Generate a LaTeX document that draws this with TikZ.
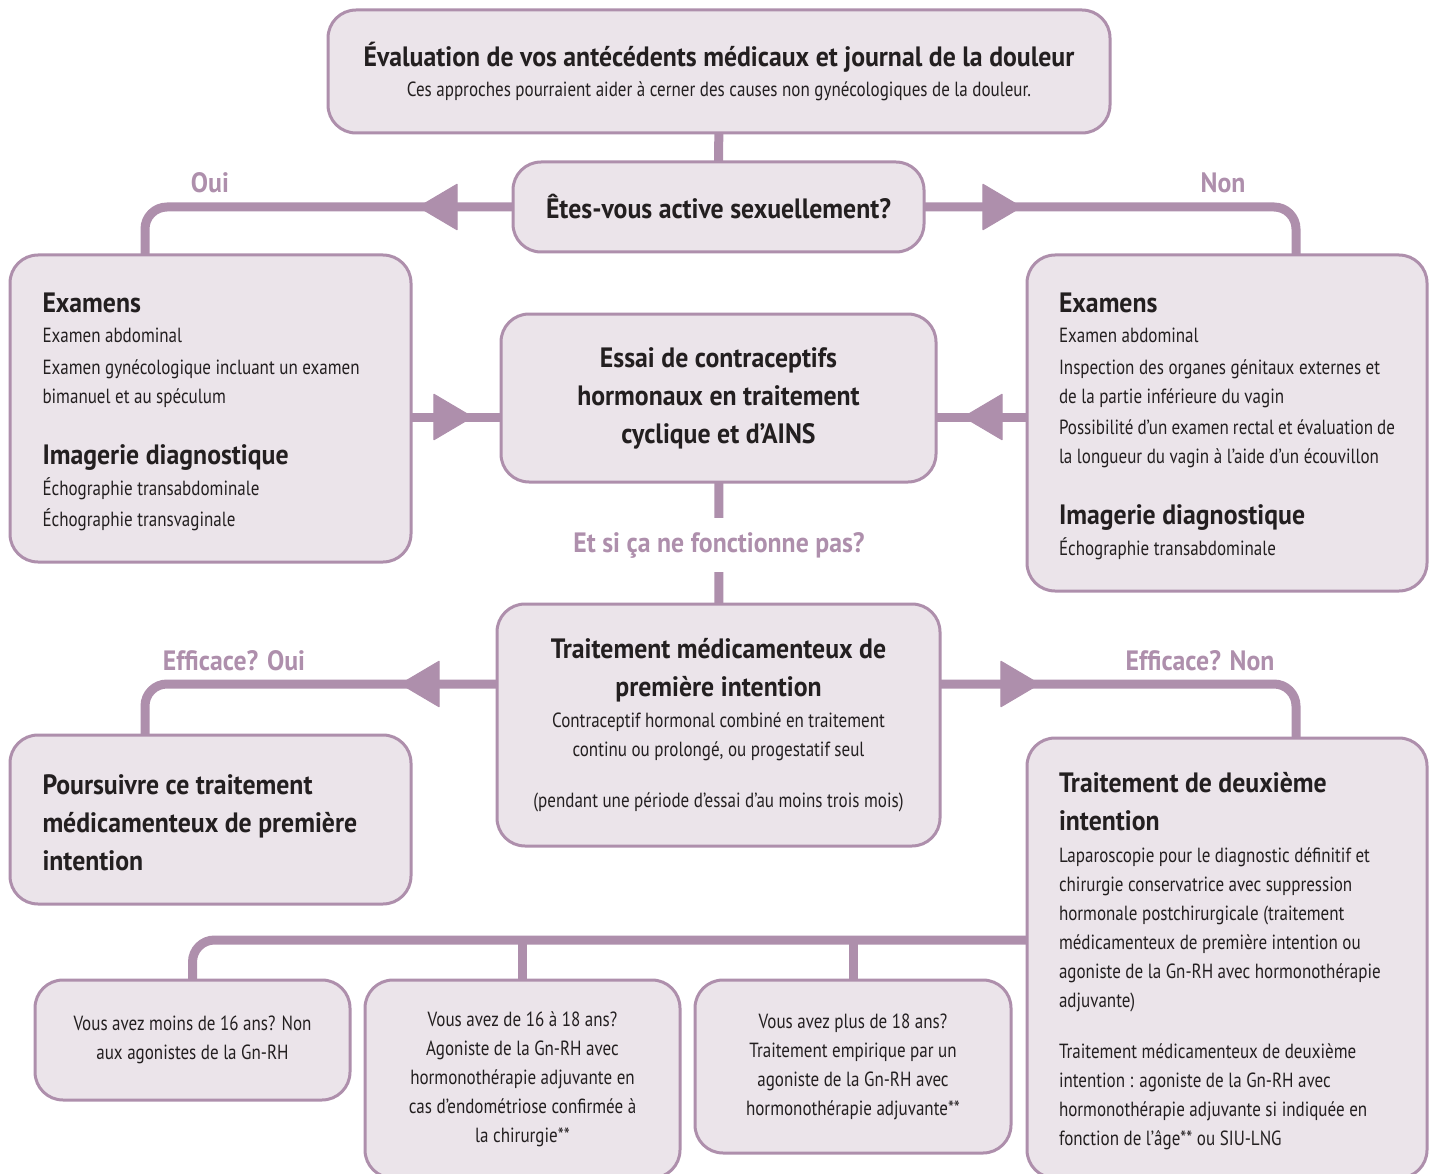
\documentclass[tikz,border=0pt]{standalone}
\usepackage{fontspec}
\setmainfont{PT Sans}[UprightFeatures={FakeStretch=0.83}, BoldFeatures={FakeStretch=0.92}]
\usetikzlibrary{arrows.meta,decorations.markings,positioning}

\definecolor{lila}{RGB}{174,143,172}
\definecolor{lilahell}{RGB}{235,228,234}
\definecolor{dunkel}{RGB}{35,31,32}

\newcommand{\kopf}{\fontsize{28}{38}\selectfont\bfseries}
\newcommand{\fliess}{\fontsize{20.5}{29}\selectfont}

\tikzset{
  kasten/.style={draw=lila, fill=lilahell, line width=3pt, rounded corners=28pt, text=dunkel, inner sep=0pt, outer sep=0pt, font=\fliess},
  links/.style={kasten, align=flush left, text width=336pt, execute at begin node=\rule{0pt}{27pt}},
  verbindung/.style={draw=lila, line width=9pt, rounded corners=22pt},
  pfeil/.style={postaction={decorate}, decoration={markings, mark=at position #1 with {\arrow{Triangle[length=40pt, width=47pt, round, line width=1pt, color=lila, fill=lila]}}}},
  beschriftung/.style={text=lila, font=\kopf, inner sep=0pt}
}

\begin{document}
\begin{tikzpicture}[x=1pt, y=-1pt]
        % Umgebung
        \path[use as bounding box, clip] (0,0) rectangle (1432,1174);

        % Kaesten oben
        \node[kasten, minimum width=782pt, minimum height=123pt, align=center] (bewertung) at (719,71.5) {{\kopf Évaluation de vos antécédents médicaux et journal de la douleur}\\[1pt]Ces approches pourraient aider à cerner des causes non gynécologiques de la douleur.};
        \node[kasten, minimum width=411pt, minimum height=90pt, font=\kopf] (frage) at (718.5,207) {Êtes-vous active sexuellement?};

        \node[kasten, links, minimum width=401pt, minimum height=307pt] (examoui) at (210.5,408.5) {{\kopf Examens}\\[1pt]
            Examen abdominal\\[3pt]
            Examen gynécologique incluant un examen\\
            bimanuel et au spéculum\\[32pt]
            {\kopf Imagerie diagnostique}\\[2pt]
            Échographie transabdominale\\[2pt]
            Échographie transvaginale};
        \node[kasten, links, minimum width=400pt, minimum height=336pt] (examnon) at (1227,423) {{\kopf Examens}\\[1pt]
            Examen abdominal\\[3pt]
            Inspection des organes génitaux externes et\\
            de la partie inférieure du vagin\\[2pt]
            Possibilité d’un examen rectal et évaluation de\\
            la longueur du vagin à l’aide d’un écouvillon\\[32pt]
            {\kopf Imagerie diagnostique}\\[2pt]
            Échographie transabdominale};

        \node[kasten, minimum width=435pt, minimum height=168pt, align=center, font=\kopf] (essai) at (718.5,398) {Essai de contraceptifs\\hormonaux en traitement\\cyclique et d’AINS};

        % Mitte
        \node[beschriftung, minimum height=54pt] (wenn) at (719,545) {Et si ça ne fonctionne pas?};

        \node[kasten, minimum width=443pt, minimum height=242pt, align=center] (mittel1) at (718.5,725) {{\kopf Traitement médicamenteux de}\\[9pt]{\kopf première intention}\\[2pt]
            Contraceptif hormonal combiné en traitement\\
            continu ou prolongé, ou progestatif seul\\[22pt]
            (pendant une période d’essai d’au moins trois mois)};

        \node[kasten, links, minimum width=401pt, minimum height=169pt, font=\kopf] (weiter) at (210.5,819.5) {Poursuivre ce traitement\\médicamenteux de première\\intention};

        \node[kasten, links, minimum width=400pt, minimum height=440pt] (mittel2) at (1227,958) {{\kopf Traitement de deuxième}\\[9pt]{\kopf intention}\\[3pt]
            Laparoscopie pour le diagnostic définitif et\\
            chirurgie conservatrice avec suppression\\
            hormonale postchirurgicale (traitement\\
            médicamenteux de première intention ou\\
            agoniste de la Gn-RH avec hormonothérapie\\
            adjuvante)\\[22pt]
            Traitement médicamenteux de deuxième\\
            intention : agoniste de la Gn-RH avec\\
            hormonothérapie adjuvante si indiquée en\\
            fonction de l’âge** ou SIU-LNG};

        % Kaesten unten
        \node[kasten, minimum width=315pt, minimum height=120pt, align=center] (alter1) at (192.5,1040) {Vous avez moins de 16 ans? Non\\aux agonistes de la Gn-RH};
        \node[kasten, minimum width=315pt, minimum height=198pt, align=center] (alter2) at (522.5,1079) {Vous avez de 16 à 18 ans?\\Agoniste de la Gn-RH avec\\hormonothérapie adjuvante en\\cas d’endométriose confirmée à\\la chirurgie**};
        \node[kasten, minimum width=316pt, minimum height=173pt, align=center] (alter3) at (853,1066.5) {Vous avez plus de 18 ans?\\Traitement empirique par un\\agoniste de la Gn-RH avec\\hormonothérapie adjuvante**};

        % Beschriftungen
        \node[beschriftung] (oui) at (210,183) {Oui};
        \node[beschriftung] (non) at (1223,183) {Non};
        \node[beschriftung] (effoui) at (234,661) {Efficace? Oui};
        \node[beschriftung] (effnon) at (1200,661) {Efficace? Non};

        % Verbindungen
        \draw[verbindung] (bewertung) -- (frage);
        \draw[verbindung, pfeil=95pt] (frage.west) -| ([xshift=135pt]examoui.north west);
        \draw[verbindung, pfeil=98pt] (frage.east) -| ([xshift=-131pt]examnon.north east);

        \coordinate (ew) at ([yshift=-19pt]essai.west);
        \coordinate (eo) at ([yshift=-19pt]essai.east);
        \draw[verbindung, pfeil=62pt] (examoui.east |- ew) -- (ew);
        \draw[verbindung, pfeil=64pt] (examnon.west |- eo) -- (eo);

        \draw[verbindung] (essai) -- (wenn) -- (mittel1);

        \coordinate (mw) at ([yshift=41pt]mittel1.west);
        \coordinate (mo) at ([yshift=41pt]mittel1.east);
        \draw[verbindung, pfeil=97pt] (mw) -| ([xshift=135pt]weiter.north west);
        \draw[verbindung, pfeil=100pt] (mo) -| ([xshift=-131pt]mittel2.north east);

        % Verzweigung unten
        \coordinate (ast) at ([yshift=18pt]mittel2.west);
        \draw[verbindung] (ast) -| (alter1.north);
        \draw[verbindung] (alter2.north) -- (alter2.north |- ast);
        \draw[verbindung] (alter3.north) -- (alter3.north |- ast);

\end{tikzpicture}
\end{document}
